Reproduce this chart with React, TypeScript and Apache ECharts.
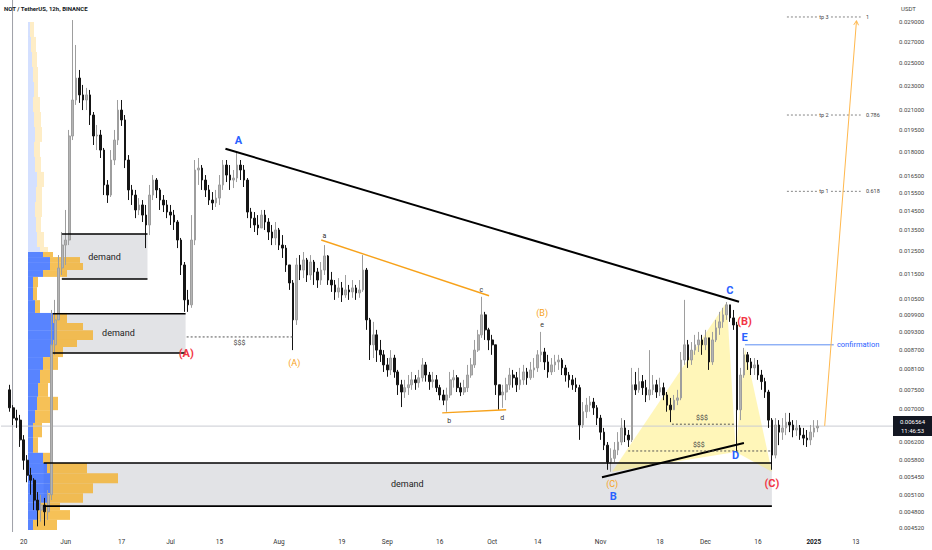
import React, { useEffect, useRef } from 'react';
import * as echarts from 'echarts';

// ---------- axis / categories ----------
const AXIS_START = '2024-05-14'; // first category on the time axis (day -6 relative to 2024-05-20)
const AXIS_DAYS = 254;           // categories up to 2025-01-21
const FIRST_CANDLE = '2024-05-16';
const FIRST_OPEN = 0.0075;
const LAST_PRICE = 0.006564;
const LAST_PRICE_TIMER = '11:46:53';

const xTickDates = ['2024-05-20', '2024-06-01', '2024-06-17', '2024-07-01', '2024-07-15', '2024-08-01', '2024-08-19', '2024-09-01', '2024-09-16', '2024-10-01', '2024-10-14', '2024-11-01', '2024-11-18', '2024-12-01', '2024-12-16', '2025-01-01', '2025-01-13'];
const xTickText = ['20', 'Jun', '17', 'Jul', '15', 'Aug', '19', 'Sep', '16', 'Oct', '14', 'Nov', '18', 'Dec', '16', '2025', '13'];

const yTicks = [0.029, 0.027, 0.025, 0.023, 0.021, 0.0195, 0.018, 0.0165, 0.0155, 0.0145, 0.0135, 0.0125, 0.0115, 0.0105, 0.0099, 0.0093, 0.0087, 0.0081, 0.0075, 0.007, 0.0062, 0.0058, 0.00545, 0.0051, 0.0048, 0.00452];
const Y_MIN = 0.004447;
const Y_MAX = 0.031443;

// ---------- daily candles (2024-05-16 .. 2025-01-02) ----------
const closes = [
  0.00702, 0.00676, 0.00671, 0.00624, 0.00579, 0.00548, 0.00538, 0.00500, 0.00482, 0.00491, 0.00479, 0.00510,
  0.00885, 0.00970, 0.01174, 0.01277, 0.01301, 0.01907, 0.02177, 0.02360, 0.02218, 0.02177,
  0.02218, 0.02060, 0.01907, 0.01914, 0.01811, 0.01593, 0.01535, 0.01746, 0.01879, 0.02098,
  0.02023, 0.01746, 0.01564, 0.01535, 0.01453, 0.01480, 0.01426, 0.01375, 0.01535, 0.01622,
  0.01564, 0.01507, 0.01480, 0.01442, 0.01426, 0.01390, 0.01301, 0.01187, 0.01044, 0.01025,
  0.01301, 0.01683, 0.01695, 0.01622, 0.01564, 0.01507, 0.01491, 0.01518, 0.01593, 0.01714,
  0.01652, 0.01622, 0.01634, 0.01714, 0.01683, 0.01622, 0.01442, 0.01410, 0.01375, 0.01360,
  0.01426, 0.01390, 0.01340, 0.01311, 0.01350, 0.01277, 0.01263, 0.01187, 0.01111, 0.00970,
  0.01187, 0.01165, 0.01209, 0.01144, 0.01200, 0.01157, 0.01123, 0.01165, 0.01227, 0.01123,
  0.01103, 0.01075, 0.01091, 0.01063, 0.01083, 0.01075, 0.01091, 0.01071, 0.01083, 0.01165,
  0.00970, 0.00885, 0.00918, 0.00868, 0.00853, 0.00822, 0.00807, 0.00843, 0.00801, 0.00764,
  0.00744, 0.00756, 0.00764, 0.00778, 0.00770, 0.00784, 0.00822, 0.00792, 0.00773, 0.00778,
  0.00756, 0.00736, 0.00722, 0.00736, 0.00778, 0.00784, 0.00756, 0.00744, 0.00756, 0.00792,
  0.00822, 0.00868, 0.00918, 0.00988, 0.00935, 0.00901, 0.00885, 0.00764, 0.00736, 0.00744,
  0.00764, 0.00792, 0.00784, 0.00764, 0.00778, 0.00801, 0.00784, 0.00807, 0.00813, 0.00853,
  0.00862, 0.00831, 0.00801, 0.00822, 0.00831, 0.00837, 0.00813, 0.00792, 0.00778, 0.00764,
  0.00756, 0.00659, 0.00692, 0.00709, 0.00717, 0.00702, 0.00676, 0.00642, 0.00612, 0.00575,
  0.00583, 0.00601, 0.00619, 0.00652, 0.00635, 0.00624, 0.00764, 0.00750, 0.00773, 0.00756,
  0.00736, 0.00750, 0.00764, 0.00744, 0.00756, 0.00736, 0.00709, 0.00697, 0.00722, 0.00728,
  0.00837, 0.00885, 0.00837, 0.00868, 0.00885, 0.00901, 0.00885, 0.00908, 0.00831, 0.00901,
  0.00942, 0.00963, 0.00988, 0.01025, 0.00977, 0.00952, 0.00697, 0.00792, 0.00853, 0.00831,
  0.00813, 0.00822, 0.00792, 0.00773, 0.00744, 0.00671, 0.00590, 0.00659, 0.00642, 0.00652,
  0.00666, 0.00659, 0.00647, 0.00652, 0.00635, 0.00628, 0.00624, 0.00642, 0.00652, 0.006564,
];
const highs = [
  0.00764, 0.00709, 0.00697, 0.00684, 0.00635, 0.00590, 0.00563, 0.00542, 0.00515, 0.00510, 0.00504, 0.00519,
  0.01006, 0.01044, 0.01231, 0.01340, 0.01453, 0.01950, 0.02921, 0.02665, 0.02431, 0.02301,
  0.02276, 0.02259, 0.02083, 0.01986, 0.01950, 0.01825, 0.01622, 0.01811, 0.01950, 0.02177,
  0.02177, 0.02060, 0.01778, 0.01593, 0.01564, 0.01518, 0.01507, 0.01480, 0.01593, 0.01652,
  0.01634, 0.01575, 0.01535, 0.01507, 0.01480, 0.01453, 0.01400, 0.01311, 0.01200, 0.01083,
  0.01426, 0.01746, 0.01759, 0.01714, 0.01652, 0.01593, 0.01552, 0.01564, 0.01652, 0.01746,
  0.01746, 0.01714, 0.01683, 0.01798, 0.01746, 0.01714, 0.01634, 0.01464, 0.01442, 0.01426,
  0.01453, 0.01453, 0.01410, 0.01375, 0.01390, 0.01360, 0.01325, 0.01277, 0.01187, 0.01123,
  0.01218, 0.01231, 0.01245, 0.01218, 0.01231, 0.01209, 0.01174, 0.01200, 0.01277, 0.01231,
  0.01157, 0.01123, 0.01131, 0.01115, 0.01144, 0.01103, 0.01123, 0.01103, 0.01123, 0.01231,
  0.01174, 0.00977, 0.00963, 0.00935, 0.00901, 0.00868, 0.00843, 0.00868, 0.00853, 0.00807,
  0.00778, 0.00778, 0.00792, 0.00801, 0.00792, 0.00807, 0.00843, 0.00831, 0.00801, 0.00801,
  0.00792, 0.00764, 0.00750, 0.00756, 0.00801, 0.00807, 0.00792, 0.00770, 0.00778, 0.00822,
  0.00843, 0.00901, 0.00935, 0.01056, 0.00999, 0.00942, 0.00918, 0.00885, 0.00764, 0.00764,
  0.00784, 0.00813, 0.00807, 0.00801, 0.00813, 0.00822, 0.00813, 0.00831, 0.00843, 0.00868,
  0.00928, 0.00875, 0.00853, 0.00843, 0.00853, 0.00853, 0.00843, 0.00822, 0.00801, 0.00792,
  0.00784, 0.00764, 0.00717, 0.00728, 0.00733, 0.00728, 0.00709, 0.00684, 0.00652, 0.00619,
  0.00605, 0.00619, 0.00642, 0.00676, 0.00671, 0.00647, 0.00813, 0.00801, 0.00813, 0.00792,
  0.00778, 0.00868, 0.00792, 0.00778, 0.00784, 0.00770, 0.00744, 0.00728, 0.00736, 0.00750,
  0.00862, 0.01044, 0.00901, 0.00894, 0.00918, 0.00928, 0.00918, 0.00935, 0.00908, 0.00928,
  0.00970, 0.00999, 0.01014, 0.01036, 0.01025, 0.01006, 0.00963, 0.00813, 0.00875, 0.00862,
  0.00843, 0.00843, 0.00837, 0.00807, 0.00784, 0.00750, 0.00676, 0.00676, 0.00671, 0.00676,
  0.00689, 0.00689, 0.00671, 0.00671, 0.00659, 0.00652, 0.00647, 0.00659, 0.00671, 0.00671,
];
const lows = [
  0.00692, 0.00659, 0.00652, 0.00608, 0.00559, 0.00534, 0.00510, 0.00482, 0.00454, 0.00462, 0.00455, 0.00465,
  0.00500, 0.00853, 0.00970, 0.01144, 0.01187, 0.01277, 0.01879, 0.02138, 0.02154, 0.02098,
  0.02098, 0.01986, 0.01845, 0.01811, 0.01759, 0.01535, 0.01491, 0.01524, 0.01714, 0.01845,
  0.01979, 0.01695, 0.01507, 0.01480, 0.01410, 0.01426, 0.01390, 0.01263, 0.01325, 0.01507,
  0.01518, 0.01453, 0.01442, 0.01410, 0.01375, 0.01350, 0.01263, 0.01144, 0.00999, 0.00999,
  0.01014, 0.01277, 0.01593, 0.01564, 0.01524, 0.01480, 0.01453, 0.01469, 0.01480, 0.01564,
  0.01610, 0.01564, 0.01575, 0.01610, 0.01622, 0.01581, 0.01410, 0.01360, 0.01340, 0.01325,
  0.01360, 0.01350, 0.01301, 0.01277, 0.01277, 0.01254, 0.01218, 0.01157, 0.01083, 0.00868,
  0.00952, 0.01123, 0.01131, 0.01115, 0.01123, 0.01103, 0.01091, 0.01103, 0.01144, 0.01103,
  0.01075, 0.01044, 0.01052, 0.01036, 0.01052, 0.01044, 0.01052, 0.01044, 0.01052, 0.01075,
  0.00935, 0.00837, 0.00843, 0.00831, 0.00831, 0.00801, 0.00787, 0.00792, 0.00784, 0.00736,
  0.00704, 0.00728, 0.00736, 0.00750, 0.00750, 0.00756, 0.00773, 0.00773, 0.00750, 0.00756,
  0.00744, 0.00722, 0.00709, 0.00692, 0.00728, 0.00756, 0.00744, 0.00733, 0.00736, 0.00744,
  0.00784, 0.00813, 0.00862, 0.00908, 0.00901, 0.00868, 0.00853, 0.00736, 0.00697, 0.00702,
  0.00722, 0.00750, 0.00756, 0.00744, 0.00750, 0.00764, 0.00764, 0.00778, 0.00784, 0.00801,
  0.00831, 0.00807, 0.00784, 0.00792, 0.00801, 0.00807, 0.00792, 0.00773, 0.00756, 0.00750,
  0.00744, 0.00624, 0.00652, 0.00676, 0.00692, 0.00684, 0.00659, 0.00624, 0.00601, 0.00559,
  0.00555, 0.00575, 0.00590, 0.00612, 0.00619, 0.00608, 0.00619, 0.00736, 0.00742, 0.00736,
  0.00717, 0.00722, 0.00736, 0.00728, 0.00733, 0.00722, 0.00692, 0.00666, 0.00697, 0.00709,
  0.00722, 0.00822, 0.00813, 0.00822, 0.00853, 0.00862, 0.00853, 0.00868, 0.00807, 0.00822,
  0.00894, 0.00918, 0.00942, 0.00970, 0.00963, 0.00935, 0.00597, 0.00671, 0.00784, 0.00807,
  0.00792, 0.00792, 0.00778, 0.00750, 0.00728, 0.00652, 0.00559, 0.00583, 0.00612, 0.00624,
  0.00635, 0.00642, 0.00630, 0.00633, 0.00624, 0.00612, 0.00608, 0.00612, 0.00630, 0.00642,
];

// ---------- visible-range volume profile (rows from top price down) ----------
const profileEdges = [0.02900, 0.02745, 0.02597, 0.02458, 0.02326, 0.02201, 0.02083, 0.01971, 0.01866, 0.01766, 0.01671, 0.01581, 0.01496, 0.01416, 0.01340, 0.01268, 0.01245, 0.01222, 0.01196, 0.01165, 0.01136, 0.01094, 0.01043, 0.00995, 0.00959, 0.00934, 0.00901, 0.00878, 0.00846, 0.00807, 0.00769, 0.00731, 0.00696, 0.00664, 0.00630, 0.00595, 0.00573, 0.00552, 0.00532, 0.00513, 0.00495, 0.00482, 0.00465, 0.00448];
const profileUp = [2, 3, 4, 5, 6, 5, 6, 7, 6, 7, 9, 8, 7, 8, 9, 12, 15, 22, 22, 15, 5, 5, 7, 25, 27, 29, 25, 22, 15, 12, 10, 9, 7, 5, 5, 15, 19, 22, 22, 19, 12, 10, 5];
const profileDown = [4, 5, 5, 5, 4, 7, 7, 7, 6, 6, 7, 6, 7, 5, 7, 8, 10, 30, 33, 24, 5, 4, 5, 14, 28, 36, 24, 13, 15, 13, 10, 21, 18, 9, 5, 7, 40, 68, 43, 36, 20, 32, 24];
const valueAreaTop = 0.01245;

// ---------- drawings (x in days since 2024-05-20, y in USDT) ----------
const demandZones = [
  { from: 10.9, to: 35.4, top: 0.0133, bottom: 0.01127, label: { d: 23.1, p: 0.01222 } },
  { from: 8.3, to: 46.3, top: 0.00992, bottom: 0.00859, label: { d: 27.1, p: 0.00925 } },
  { from: 5.7, to: 214.0, top: 0.00573, bottom: 0.00489, label: { d: 109.7, p: 0.0053 } },
];
const blackTrendlines = [
  [[57.7, 0.0182], [204.6, 0.01037]],
  [[165.4, 0.00544], [206.0, 0.00617]],
];
const orangeTrendlines = [
  [[85.1, 0.01301], [133.1, 0.0106]],
  [[119.7, 0.00689], [138.0, 0.00697]],
];
const liquidityLines = [
  { from: 46.6, to: 77.1, p: 0.00911 },
  { from: 185.4, to: 203.7, p: 0.00661 },
  { from: 172.9, to: 213.7, p: 0.00599 },
];
const liquidityTags = [
  { d: 61.7, p: 0.00891 },
  { d: 194.0, p: 0.00676 },
  { d: 193.1, p: 0.00612 },
];
const harmonicLegs = [
  [[168.3, 0.00555], [201.1, 0.01036], [203.7, 0.00597]],
  [[203.7, 0.00597], [206.3, 0.00875], [214.0, 0.00555]],
];
const waveLabels = [
  { text: 'A', d: 61.4, p: 0.01879, kind: 'blue' },
  { text: '(A)', d: 46.5, p: 0.00856, kind: 'red' },
  { text: '(A)', d: 77.4, p: 0.00828, kind: 'orange' },
  { text: 'a', d: 86.0, p: 0.0132, kind: 'minor' },
  { text: 'c', d: 130.9, p: 0.01083, kind: 'minor' },
  { text: 'b', d: 121.7, p: 0.00669, kind: 'minor' },
  { text: 'd', d: 136.9, p: 0.00676, kind: 'minor' },
  { text: '(B)', d: 148.3, p: 0.00995, kind: 'orange' },
  { text: 'e', d: 148.3, p: 0.00952, kind: 'minor' },
  { text: 'C', d: 202.0, p: 0.0108, kind: 'blue' },
  { text: '(B)', d: 206.2, p: 0.00963, kind: 'red' },
  { text: 'E', d: 206.2, p: 0.00908, kind: 'blue' },
  { text: 'D', d: 203.6, p: 0.0059, kind: 'blue' },
  { text: '(C)', d: 168.3, p: 0.0053, kind: 'orange' },
  { text: 'B', d: 168.6, p: 0.00506, kind: 'blue' },
  { text: '(C)', d: 214.0, p: 0.00532, kind: 'red' },
];
const confirmation = { from: 206.3, to: 231.7, p: 0.00885, textAt: 232.6 };
const targets = [
  { name: 'tp 3', ratio: '1', p: 0.02954 },
  { name: 'tp 2', ratio: '0.786', p: 0.0206 },
  { name: 'tp 1', ratio: '0.618', p: 0.01556 },
];
const targetSpan = { from: 218.3, to: 239.4, nameAt: 228.9, ratioAt: 240.9 };
const projection = [[229.1, 0.00657], [238.2, 0.02914]];
const verticalMarker = -3.2;

const FONT = 'Roboto, "Liberation Sans", Arial, sans-serif';

const KIND_STYLE: any = {
  blue: { size: 11, weight: 'bold', color: '#2962ff' },
  red: { size: 11, weight: 'bold', color: '#f23645' },
  orange: { size: 9, weight: 'normal', color: '#f7a21b' },
  minor: { size: 7, weight: 'normal', color: '#333333' },
};

function fmtDate(t: number) {
  const dt = new Date(t);
  const m = String(dt.getUTCMonth() + 1).padStart(2, '0');
  const d = String(dt.getUTCDate()).padStart(2, '0');
  return `${dt.getUTCFullYear()}-${m}-${d}`;
}

export default function App() {
  const ref = useRef<HTMLDivElement>(null);

  useEffect(() => {
    const el = ref.current as HTMLDivElement;
    const chart = echarts.init(el, undefined, { renderer: 'svg' });

    const start = Date.parse(AXIS_START + 'T00:00:00Z');
    const cats: string[] = [];
    for (let i = 0; i < AXIS_DAYS; i++) cats.push(fmtDate(start + i * 86400000));
    const firstIdx = cats.indexOf(FIRST_CANDLE);
    const dayMin = -6.5; // value-axis extent matching category band edges (days since 2024-05-20)
    const dayMax = dayMin + AXIS_DAYS;

    const candles = closes.map((c, i) => {
      const o = i === 0 ? FIRST_OPEN : closes[i - 1];
      const h = Math.max(highs[i], o, c);
      const l = Math.min(lows[i], o, c);
      return [cats[firstIdx + i], o, c, l, h];
    });

    const tickMap: Record<string, string> = {};
    xTickDates.forEach((d, i) => (tickMap[d] = xTickText[i]));

    const profileRows = profileUp.map((u, i) => [
      profileEdges[i + 1], profileEdges[i], u, profileDown[i], profileEdges[i] <= valueAreaTop ? 1 : 0,
    ]);

    const option: any = {
      animation: false,
      backgroundColor: '#ffffff',
      grid: [
        { left: 1, right: 43, top: 0, bottom: 18 },
        { left: 28, width: 200, top: 0, bottom: 18 },
      ],
      xAxis: [
        {
          type: 'category', gridIndex: 0, data: cats, boundaryGap: true,
          axisLine: { show: false }, axisTick: { show: false }, splitLine: { show: false },
          axisLabel: {
            interval: (_i: number, v: string) => tickMap[v] !== undefined,
            formatter: (v: string) => (tickMap[v] === '2025' ? '{b|2025}' : tickMap[v] || ''),
            fontSize: 6.5, color: '#333', margin: 6, fontFamily: FONT,
            rich: { b: { fontWeight: 'bold', fontSize: 6.5, color: '#131722', fontFamily: FONT } },
          },
        },
        { type: 'value', gridIndex: 0, min: dayMin, max: dayMax, show: false },
        { type: 'value', gridIndex: 1, min: 0, max: 200, show: false },
      ],
      yAxis: [
        { type: 'log', gridIndex: 0, min: Y_MIN, max: Y_MAX, show: false, splitLine: { show: false } },
        { type: 'log', gridIndex: 1, min: Y_MIN, max: Y_MAX, show: false, splitLine: { show: false } },
      ],
      series: [
        {
          type: 'custom', name: 'profile', xAxisIndex: 2, yAxisIndex: 1, silent: true, z: 1,
          data: profileRows, encode: { x: 2, y: 0 },
          renderItem: (_p: any, api: any) => {
            const lo = api.value(0), hi = api.value(1), up = api.value(2), dn = api.value(3), va = api.value(4);
            const a = api.coord([0, hi]);
            const b = api.coord([up, lo]);
            const c = api.coord([up + dn, lo]);
            return {
              type: 'group',
              children: [
                { type: 'rect', shape: { x: a[0], y: a[1], width: b[0] - a[0], height: b[1] - a[1] },
                  style: { fill: va ? 'rgba(41,98,255,0.78)' : 'rgba(41,98,255,0.2)' } },
                { type: 'rect', shape: { x: b[0], y: a[1], width: c[0] - b[0], height: b[1] - a[1] },
                  style: { fill: va ? 'rgba(244,176,40,0.78)' : 'rgba(250,190,50,0.28)' } },
              ],
            };
          },
        },
        {
          type: 'candlestick', name: 'NOTUSDT', xAxisIndex: 0, yAxisIndex: 0, z: 2,
          data: candles, encode: { x: 0, y: [1, 2, 3, 4] }, barWidth: '62%',
          itemStyle: { color: '#b4b4b4', color0: '#151515', borderColor: '#9e9e9e', borderColor0: '#151515', borderWidth: 1 },
        },
      ],
    };
    chart.setOption(option);

    const X = (d: number) => chart.convertToPixel({ xAxisIndex: 1 } as any, d) as unknown as number;
    const Y = (p: number) => chart.convertToPixel({ yAxisIndex: 0 } as any, p) as unknown as number;
    const left = X(dayMin), right = X(dayMax), top = Y(Y_MAX), bottom = Y(Y_MIN);

    const g: any[] = [];
    const line = (x1: number, y1: number, x2: number, y2: number, style: any, z = 4) =>
      g.push({ type: 'line', silent: true, z, shape: { x1, y1, x2, y2 }, style: { fill: null, ...style } });
    const text = (t: string, x: number, y: number, size: number, color: string, opts: any = {}) => {
      const align = opts.align || 'center';
      const weight = opts.weight || 'normal';
      g.push({
        type: 'text', silent: true, z: opts.z || 6, x, y,
        style: {
          text: t, fill: color, font: `${weight} ${size}px ${FONT}`,
          align, textAlign: align, verticalAlign: 'middle', textVerticalAlign: 'middle',
          backgroundColor: opts.bg, padding: opts.bg ? [0, 2] : undefined,
        },
      });
    };

    // demand zones
    demandZones.forEach((z) => {
      const x1 = X(z.from), x2 = X(z.to), y1 = Y(z.top), y2 = Y(z.bottom);
      g.push({ type: 'rect', silent: true, z: 0, shape: { x: x1, y: y1, width: x2 - x1, height: y2 - y1 }, style: { fill: '#e2e3e6' } });
      line(x1, y1, x2, y1, { stroke: '#000', lineWidth: 1.6 }, 3);
      line(x1, y2, x2, y2, { stroke: '#000', lineWidth: 1.6 }, 3);
      text('demand', X(z.label.d), Y(z.label.p), 9, '#222');
    });

    // harmonic legs
    harmonicLegs.forEach((pts) => {
      g.push({ type: 'polygon', silent: true, z: 0, shape: { points: pts.map(([d, p]) => [X(d), Y(p)]) }, style: { fill: 'rgba(255,236,100,0.45)' } });
    });

    // current price line
    line(left, Y(LAST_PRICE), right + 4, Y(LAST_PRICE), { stroke: '#c9ccd2', lineWidth: 1 }, 1);

    // vertical marker
    line(X(verticalMarker), top, X(verticalMarker), bottom, { stroke: '#9ea1a8', lineWidth: 1 }, 1);

    // trendlines
    blackTrendlines.forEach(([a, b]) => line(X(a[0]), Y(a[1]), X(b[0]), Y(b[1]), { stroke: '#000', lineWidth: 2 }, 4));
    orangeTrendlines.forEach(([a, b]) => line(X(a[0]), Y(a[1]), X(b[0]), Y(b[1]), { stroke: '#f7a21b', lineWidth: 1.4 }, 4));

    // liquidity lines
    liquidityLines.forEach((l) => line(X(l.from), Y(l.p), X(l.to), Y(l.p), { stroke: '#555', lineWidth: 1, lineDash: [2, 2] }, 4));
    liquidityTags.forEach((t) => text('$$$', X(t.d), Y(t.p), 7, '#444'));

    // wave labels
    waveLabels.forEach((w) => {
      const s = KIND_STYLE[w.kind];
      text(w.text, X(w.d), Y(w.p), s.size, s.color, { weight: s.weight });
    });

    // confirmation
    line(X(confirmation.from), Y(confirmation.p), X(confirmation.to), Y(confirmation.p), { stroke: '#5d8ef2', lineWidth: 1 }, 4);
    text('confirmation', X(confirmation.textAt), Y(confirmation.p), 7.5, '#2962ff', { align: 'left' });

    // targets
    targets.forEach((t) => {
      line(X(targetSpan.from), Y(t.p), X(targetSpan.to), Y(t.p), { stroke: '#666', lineWidth: 0.8, lineDash: [2, 2] }, 4);
      text(t.name, X(targetSpan.nameAt), Y(t.p), 5.5, '#444', { bg: '#ffffff' });
      text(t.ratio, X(targetSpan.ratioAt), Y(t.p), 5.5, '#444', { align: 'left' });
    });

    // projection arrow
    {
      const x1 = X(projection[0][0]), y1 = Y(projection[0][1]);
      const x2 = X(projection[1][0]), y2 = Y(projection[1][1]);
      line(x1, y1, x2, y2, { stroke: '#ffb84d', lineWidth: 1 }, 4);
      const ang = Math.atan2(y1 - y2, x1 - x2);
      const L = 5;
      [-0.5, 0.5].forEach((da) =>
        line(x2, y2, x2 + L * Math.cos(ang + da), y2 + L * Math.sin(ang + da), { stroke: '#ffb84d', lineWidth: 1 }, 4));
    }

    // price scale labels
    yTicks.forEach((v) => text(v.toFixed(6), right + 10, Y(v), 6, '#444', { align: 'left' }));
    text('USDT', right + 12, 8, 6, '#444', { align: 'left' });

    // last price tag
    {
      const yy = Y(LAST_PRICE);
      const x0 = right + 4;
      g.push({ type: 'rect', silent: true, z: 7, shape: { x: x0, y: yy - 10, width: 932 - x0, height: 20 }, style: { fill: '#131722' } });
      text(LAST_PRICE.toFixed(6), (x0 + 932) / 2, yy - 4.5, 6, '#ffffff', { z: 8 });
      text(LAST_PRICE_TIMER, (x0 + 932) / 2, yy + 4.5, 6, '#ffffff', { z: 8 });
    }

    // title
    text('NOT / TetherUS, 12h, BINANCE', 4, 8, 6, '#131722', { align: 'left', weight: 'bold' });

    chart.setOption({ graphic: g });

    return () => chart.dispose();
  }, []);

  return <div ref={ref} style={{ position: 'fixed', left: 0, top: 0, width: 932, height: 550, background: '#fff' }} />;
}
